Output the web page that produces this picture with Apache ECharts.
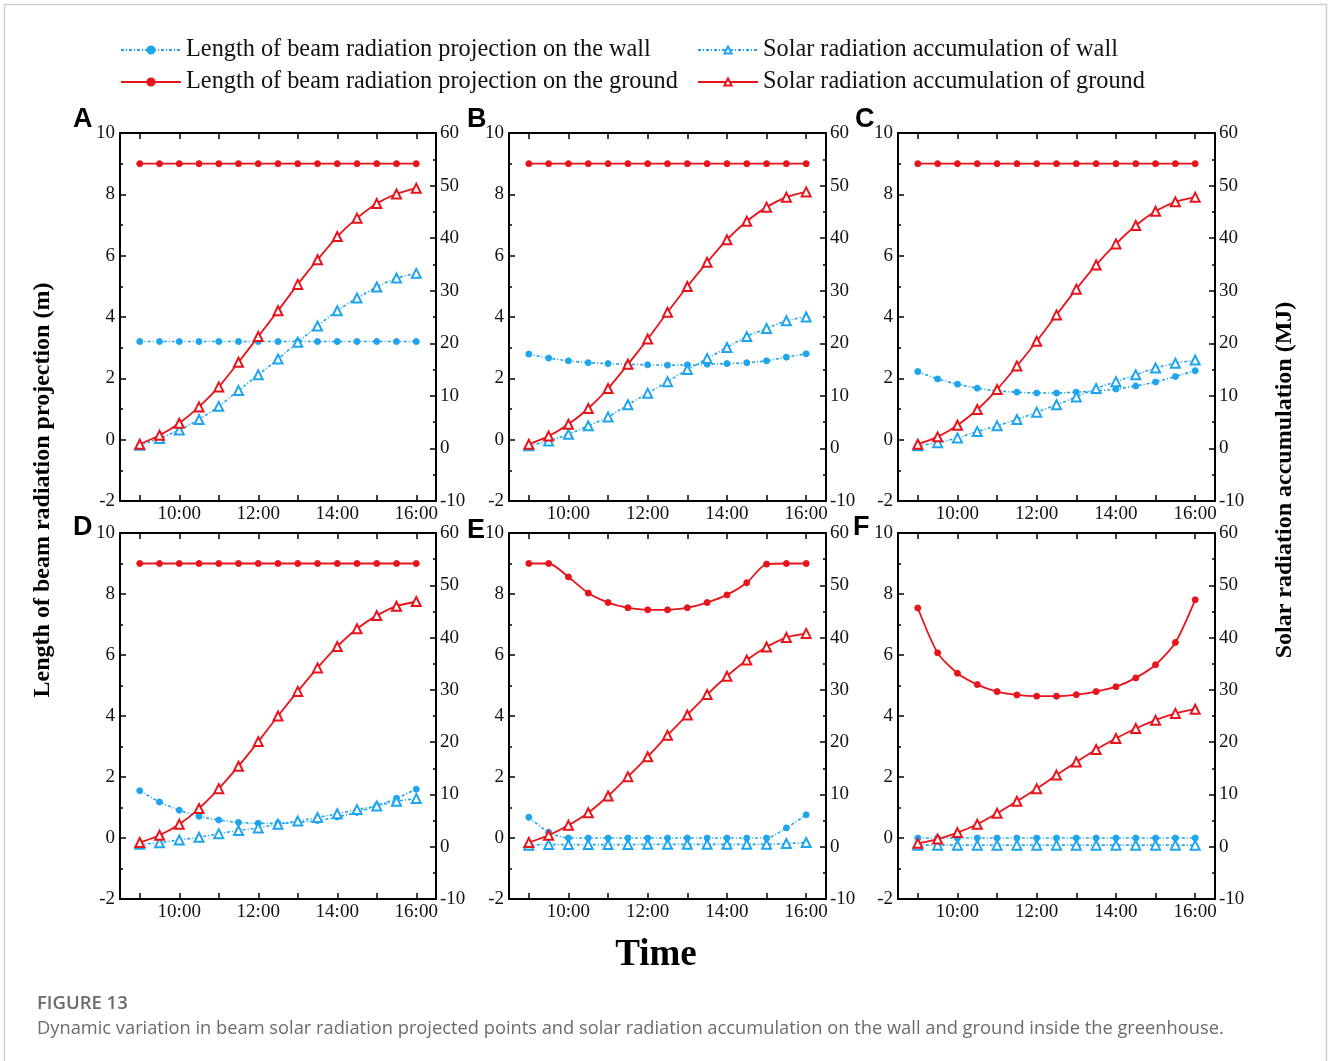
<!DOCTYPE html>
<html><head><meta charset="utf-8">
<script src="https://cdn.jsdelivr.net/npm/echarts@6/dist/echarts.min.js"></script>
<style>html,body{margin:0;padding:0;background:#fff}#c{width:1328px;height:1061px}</style>
</head><body><div id="c"></div><script>
// ---------- DATA ----------
const times = [9, 9.5, 10, 10.5, 11, 11.5, 12, 12.5, 13, 13.5, 14, 14.5, 15, 15.5, 16];
const xTickHours = [9, 10, 11, 12, 13, 14, 15, 16];
const xLabelHours = [10, 12, 14, 16];
const panelLetters = ['A', 'B', 'C', 'D', 'E', 'F'];
const seriesNames = [
  'Length of beam radiation projection on the wall',
  'Length of beam radiation projection on the ground',
  'Solar radiation accumulation of wall',
  'Solar radiation accumulation of ground'
];

// Panel A
const wallLenA   = [3.2, 3.2, 3.2, 3.2, 3.2, 3.2, 3.2, 3.2, 3.2, 3.2, 3.2, 3.2, 3.2, 3.2, 3.2];
const groundLenA = [9, 9, 9, 9, 9, 9, 9, 9, 9, 9, 9, 9, 9, 9, 9];
const wallAccA   = [0.6, 1.9, 3.5, 5.5, 8.0, 11.0, 14.0, 17.0, 20.2, 23.3, 26.2, 28.6, 30.7, 32.4, 33.3];
const groundAccA = [0.8, 2.5, 4.8, 7.9, 11.7, 16.4, 21.3, 26.2, 31.2, 35.9, 40.3, 43.8, 46.6, 48.4, 49.5];
// Panel B
const wallLenB   = [2.79, 2.66, 2.57, 2.51, 2.48, 2.46, 2.44, 2.43, 2.44, 2.46, 2.48, 2.51, 2.57, 2.69, 2.80];
const groundLenB = [9, 9, 9, 9, 9, 9, 9, 9, 9, 9, 9, 9, 9, 9, 9];
const wallAccB   = [0.5, 1.4, 2.7, 4.3, 6.0, 8.3, 10.5, 12.7, 15.0, 17.1, 19.2, 21.3, 22.8, 24.3, 25.0];
const groundAccB = [0.8, 2.35, 4.6, 7.6, 11.4, 16.0, 20.8, 25.9, 30.8, 35.4, 39.7, 43.2, 45.9, 47.8, 48.8];
// Panel C
const wallLenC   = [2.22, 1.98, 1.81, 1.68, 1.59, 1.55, 1.52, 1.52, 1.55, 1.59, 1.65, 1.75, 1.88, 2.06, 2.25];
const groundLenC = [9, 9, 9, 9, 9, 9, 9, 9, 9, 9, 9, 9, 9, 9, 9];
const wallAccC   = [0.5, 1.1, 2.0, 3.2, 4.3, 5.5, 6.9, 8.3, 9.8, 11.4, 12.7, 14.0, 15.3, 16.2, 16.8];
const groundAccC = [0.8, 2.2, 4.4, 7.4, 11.2, 15.7, 20.4, 25.4, 30.3, 34.9, 38.9, 42.4, 45.1, 46.9, 47.8];
// Panel D
const wallLenD   = [1.55, 1.18, 0.91, 0.71, 0.59, 0.51, 0.48, 0.48, 0.51, 0.57, 0.69, 0.84, 1.06, 1.30, 1.60];
const groundLenD = [9, 9, 9, 9, 9, 9, 9, 9, 9, 9, 9, 9, 9, 9, 9];
const wallAccD   = [0.45, 0.76, 1.3, 1.8, 2.5, 3.1, 3.6, 4.3, 4.9, 5.6, 6.3, 7.1, 7.8, 8.7, 9.2];
const groundAccD = [0.8, 2.2, 4.3, 7.3, 11.1, 15.4, 20.1, 25.0, 29.7, 34.2, 38.3, 41.7, 44.2, 46.0, 46.9];
// Panel E
const wallLenE   = [0.68, 0.19, 0, 0, 0, 0, 0, 0, 0, 0, 0, 0, 0, 0.33, 0.76];
const groundLenE = [9, 9, 8.56, 8.03, 7.72, 7.55, 7.48, 7.48, 7.55, 7.72, 7.97, 8.37, 8.98, 9, 9];
const wallAccE   = [0.3, 0.4, 0.4, 0.4, 0.4, 0.4, 0.45, 0.45, 0.45, 0.45, 0.45, 0.45, 0.45, 0.6, 0.8];
const groundAccE = [0.8, 2.2, 4.1, 6.5, 9.7, 13.4, 17.2, 21.3, 25.2, 29.1, 32.6, 35.7, 38.2, 40.0, 40.8];
// Panel F
const wallLenF   = [0, 0, 0, 0, 0, 0, 0, 0, 0, 0, 0, 0, 0, 0, 0];
const groundLenF = [7.54, 6.07, 5.40, 5.03, 4.80, 4.69, 4.65, 4.65, 4.70, 4.80, 4.96, 5.25, 5.68, 6.41, 7.81];
const wallAccF   = [0.3, 0.3, 0.3, 0.3, 0.3, 0.3, 0.3, 0.3, 0.3, 0.3, 0.3, 0.3, 0.3, 0.3, 0.3];
const groundAccF = [0.64, 1.46, 2.7, 4.3, 6.4, 8.7, 11.1, 13.7, 16.2, 18.6, 20.7, 22.6, 24.2, 25.5, 26.3];

const panels = [
  [wallLenA, groundLenA, wallAccA, groundAccA],
  [wallLenB, groundLenB, wallAccB, groundAccB],
  [wallLenC, groundLenC, wallAccC, groundAccC],
  [wallLenD, groundLenD, wallAccD, groundAccD],
  [wallLenE, groundLenE, wallAccE, groundAccE],
  [wallLenF, groundLenF, wallAccF, groundAccF]
];

// ---------- LAYOUT ----------
const BLUE = '#1FA5EE';
const RED = '#E8141C';
const SERIF = '"Liberation Serif","Times New Roman",serif';
const gridPos = [
  {left: 120, top: 133, width: 316, height: 368},
  {left: 509, top: 133, width: 317, height: 368},
  {left: 898, top: 133, width: 317, height: 368},
  {left: 120, top: 533, width: 316, height: 366},
  {left: 509, top: 533, width: 317, height: 366},
  {left: 898, top: 533, width: 317, height: 366}
];
const letterPos = [[73, 106], [467, 106], [855, 106], [73, 514], [467, 517], [853, 514]];

const pair = arr => arr.map((v, i) => [times[i], v]);
const axisLine = {show: true, onZero: false, lineStyle: {color: '#000', width: 2}};
const labelStyle = {color: '#111', fontFamily: SERIF, fontSize: 19};

const grids = [], xAxes = [], yAxes = [], series = [];
panels.forEach((p, i) => {
  grids.push(Object.assign({}, gridPos[i]));
  xAxes.push({
    type: 'value', gridIndex: i, position: 'bottom', min: 8.5, max: 16.5,
    axisLine, splitLine: {show: false},
    axisTick: {inside: true, length: 6, customValues: xTickHours, lineStyle: {color: '#000', width: 1.5}},
    axisLabel: Object.assign({customValues: xLabelHours, margin: 4, formatter: v => v + ':00'}, labelStyle)
  });
  xAxes.push({
    type: 'value', gridIndex: i, position: 'top', min: 8.5, max: 16.5,
    axisLine, splitLine: {show: false},
    axisTick: {inside: true, length: 6, customValues: xTickHours, lineStyle: {color: '#000', width: 1.5}},
    axisLabel: {show: false}
  });
  yAxes.push({
    type: 'value', gridIndex: i, position: 'left', min: -2, max: 10, interval: 2,
    axisLine, splitLine: {show: false},
    axisTick: {inside: true, length: 6, lineStyle: {color: '#000', width: 1.5}},
    minorTick: {show: true, splitNumber: 2, length: 3, lineStyle: {color: '#000', width: 1.5}},
    axisLabel: Object.assign({margin: 5}, labelStyle)
  });
  yAxes.push({
    type: 'value', gridIndex: i, position: 'right', min: -10, max: 60, interval: 10,
    axisLine, splitLine: {show: false},
    axisTick: {inside: true, length: 6, lineStyle: {color: '#000', width: 1.5}},
    minorTick: {show: true, splitNumber: 2, length: 3, lineStyle: {color: '#000', width: 1.5}},
    axisLabel: Object.assign({margin: 4}, labelStyle)
  });
  const styles = [
    {color: BLUE, dash: [3, 2, 1, 2], symbol: 'circle', size: 6, yi: 2 * i},
    {color: RED, dash: 'solid', symbol: 'circle', size: 6, yi: 2 * i},
    {color: BLUE, dash: [3, 2, 1, 2], symbol: 'emptyTriangle', size: 9, yi: 2 * i + 1},
    {color: RED, dash: 'solid', symbol: 'emptyTriangle', size: 9, yi: 2 * i + 1}
  ];
  p.forEach((arr, k) => {
    const s = styles[k];
    series.push({
      type: 'line', name: seriesNames[k], xAxisIndex: 2 * i, yAxisIndex: s.yi,
      data: pair(arr), smooth: 0.25, showAllSymbol: true,
      symbol: s.symbol, symbolSize: s.size,
      itemStyle: {color: s.color, borderColor: s.color, borderWidth: 1},
      lineStyle: {color: s.color, width: s.dash === 'solid' ? 1.8 : 1.6, type: s.dash},
      z: k === 1 || k === 3 ? 3 : 2
    });
  });
});

const CAPFONT = '"Open Sans", "Noto Sans", sans-serif';
const graphics = [
  {type: 'rect', shape: {x: 4.5, y: 4.5, width: 1322, height: 1070}, style: {fill: 'none', stroke: '#cfcfcf', lineWidth: 1.5}, silent: true},
  {type: 'text', x: 43, y: 490, rotation: Math.PI / 2,
    style: {text: 'Length of beam radiation projection (m)', font: 'bold 24px ' + SERIF, fill: '#000', align: 'center', verticalAlign: 'middle'}},
  {type: 'text', x: 1285, y: 480, rotation: Math.PI / 2,
    style: {text: 'Solar radiation accumulation (MJ)', font: 'bold 24px ' + SERIF, fill: '#000', align: 'center', verticalAlign: 'middle'}},
  {type: 'text', x: 656, y: 955,
    style: {text: 'Time', font: 'bold 37px ' + SERIF, fill: '#000', align: 'center', verticalAlign: 'middle'}},
  {type: 'text', x: 37, y: 1004,
    style: {text: 'FIGURE 13', font: '600 18.5px ' + CAPFONT, fill: '#6b6b6b', align: 'left', verticalAlign: 'middle'}},
  {type: 'text', x: 37, y: 1029,
    style: {text: 'Dynamic variation in beam solar radiation projected points and solar radiation accumulation on the wall and ground inside the greenhouse.', font: '18.3px ' + CAPFONT, fill: '#6b6b6b', align: 'left', verticalAlign: 'middle'}}
];
panelLetters.forEach((L, i) => {
  graphics.push({type: 'text', x: letterPos[i][0], y: letterPos[i][1],
    style: {text: L, font: 'bold 27px "Liberation Sans", Arial, sans-serif', fill: '#000', align: 'left', verticalAlign: 'top'}});
});

const legendText = {color: '#111', fontFamily: SERIF, fontSize: 24.3, lineHeight: 24};
const option = {
  animation: false,
  backgroundColor: '#fff',
  legend: [
    {data: [seriesNames[0], seriesNames[1]], orient: 'vertical', left: 120, top: 38, padding: 0,
      itemWidth: 60, itemHeight: 9, itemGap: 8, textStyle: legendText, selectedMode: false},
    {data: [seriesNames[2], seriesNames[3]], orient: 'vertical', left: 697, top: 38, padding: 0,
      itemWidth: 60, itemHeight: 9, itemGap: 8, textStyle: legendText, selectedMode: false}
  ],
  grid: grids, xAxis: xAxes, yAxis: yAxes, series: series, graphic: graphics
};
const chart = echarts.init(document.getElementById('c'), null, {renderer: 'canvas'});
chart.setOption(option);
</script></body></html>
